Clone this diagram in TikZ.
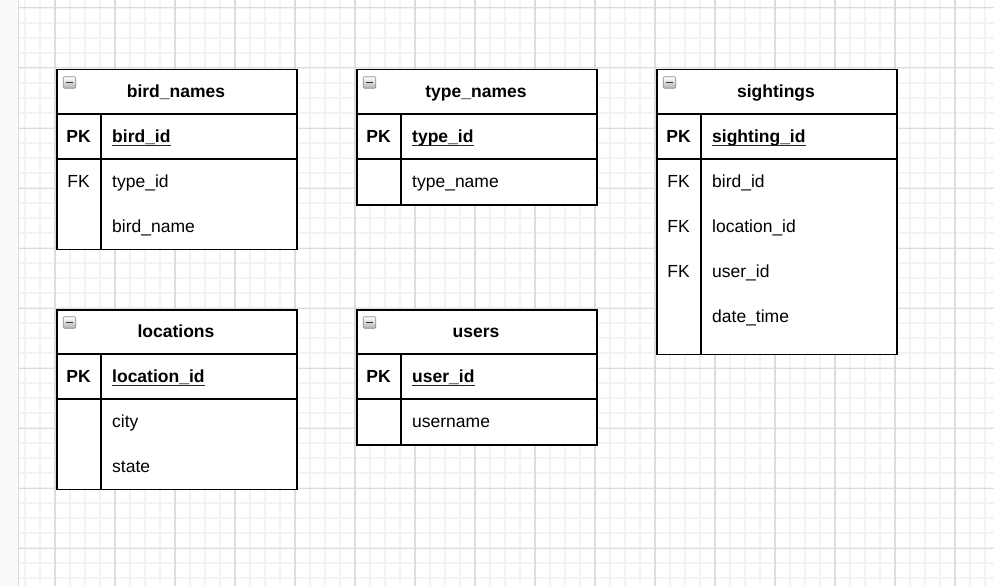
\documentclass[tikz,border=0pt]{standalone}
\usepackage{fontspec}
\setmainfont{Liberation Sans}
\usetikzlibrary{shadings}
\definecolor{minorgrid}{HTML}{F3F3F3}
\definecolor{majorgrid}{HTML}{DCDCDC}
\definecolor{strip}{HTML}{FAFAFA}
\tikzset{
  tbl/.style={draw=black, line width=1.5pt, fill=white, anchor=north west, minimum width=240pt, inner sep=0pt},
  ln/.style={draw=black, line width=1.5pt},
  txt/.style={font=\fontsize{17.5pt}{21pt}\selectfont, inner sep=0pt, text=black},
  hdr/.style={txt, font=\fontsize{17.5pt}{21pt}\selectfont\bfseries, anchor=base},
  keyb/.style={txt, font=\fontsize{17.5pt}{21pt}\selectfont\bfseries, anchor=base},
  keyn/.style={txt, anchor=base},
  fldb/.style={txt, font=\fontsize{17.5pt}{21pt}\selectfont\bfseries, anchor=base west},
  fld/.style={txt, anchor=base west},
  ul/.style={draw=black!85, line width=1pt},
  icon/.style={draw=black!45, line width=0.6pt, rounded corners=1pt, minimum width=12.5pt, minimum height=11.5pt, inner sep=0pt,
    top color=white, bottom color=black!30,
    path picture={\draw[line width=1.4pt, black!80] ([xshift=-3.6pt]path picture bounding box.center) -- ([xshift=3.6pt]path picture bounding box.center);}}
}
\begin{document}
\begin{tikzpicture}[x=1pt,y=-1pt]
\useasboundingbox (0,0) rectangle (994,586);
% background and grid
\fill[white] (0,0) rectangle (994,586);
\fill[strip] (0,0) rectangle (18,586);
\foreach \x in {25,40,...,985} \draw[minorgrid, line width=1.6pt] (\x,0) -- (\x,586);
\foreach \y in {8,23,...,578} \draw[minorgrid, line width=1.6pt] (18,\y) -- (994,\y);
\foreach \x in {55,115,...,955} \draw[majorgrid, line width=1.2pt] (\x,0) -- (\x,586);
\foreach \y in {8,68,...,548} \draw[majorgrid, line width=1pt] (18,\y) -- (994,\y);
\draw[majorgrid, line width=1pt] (18,0) -- (18,586);

% ---------- bird_names ----------
\node[tbl, minimum height=179.5pt] (bn) at (56,69) {};
\draw[ln] (56,114) -- (296,114) (56,159) -- (296,159) (101,114) -- (101,248.5);
\node[icon] (bn-i) at (69.5,82.5) {};
\node[hdr] (bn-h) at (176,97.8) {bird\_names};
\node[keyb] (bn-k1) at (78.5,142.8) {PK};
\node[fldb] (bn-f1) at (112,142.8) {bird\_id};
\draw[ul] ([yshift=-3pt]bn-f1.base west) -- ([yshift=-3pt]bn-f1.base east);
\node[keyn] (bn-k2) at (78.5,187.8) {FK};
\node[fld] (bn-f2) at (112,187.8) {type\_id};
\node[fld] (bn-f3) at (112,232.8) {bird\_name};

% ---------- type_names ----------
\node[tbl, minimum height=135pt] (tn) at (356,69) {};
\draw[ln] (356,114) -- (596,114) (356,159) -- (596,159) (401,114) -- (401,204);
\node[icon] (tn-i) at (369.5,82.5) {};
\node[hdr] (tn-h) at (476,97.8) {type\_names};
\node[keyb] (tn-k1) at (378.5,142.8) {PK};
\node[fldb] (tn-f1) at (412,142.8) {type\_id};
\draw[ul] ([yshift=-3pt]tn-f1.base west) -- ([yshift=-3pt]tn-f1.base east);
\node[fld] (tn-f2) at (412,187.8) {type\_name};

% ---------- sightings ----------
\node[tbl, minimum height=284.5pt] (si) at (656,69) {};
\draw[ln] (656,114) -- (896,114) (656,159) -- (896,159) (701,114) -- (701,353.5);
\node[icon] (si-i) at (669.5,82.5) {};
\node[hdr] (si-h) at (776,97.8) {sightings};
\node[keyb] (si-k1) at (678.5,142.8) {PK};
\node[fldb] (si-f1) at (712,142.8) {sighting\_id};
\draw[ul] ([yshift=-3pt]si-f1.base west) -- ([yshift=-3pt]si-f1.base east);
\node[keyn] (si-k2) at (678.5,187.8) {FK};
\node[fld] (si-f2) at (712,187.8) {bird\_id};
\node[keyn] (si-k3) at (678.5,232.8) {FK};
\node[fld] (si-f3) at (712,232.8) {location\_id};
\node[keyn] (si-k4) at (678.5,277.8) {FK};
\node[fld] (si-f4) at (712,277.8) {user\_id};
\node[fld] (si-f5) at (712,322.6) {date\_time};

% ---------- locations ----------
\node[tbl, minimum height=179.5pt] (lo) at (56,309) {};
\draw[ln] (56,354) -- (296,354) (56,399) -- (296,399) (101,354) -- (101,488.5);
\node[icon] (lo-i) at (69.5,322.5) {};
\node[hdr] (lo-h) at (176,337.8) {locations};
\node[keyb] (lo-k1) at (78.5,382.8) {PK};
\node[fldb] (lo-f1) at (112,382.8) {location\_id};
\draw[ul] ([yshift=-3pt]lo-f1.base west) -- ([yshift=-3pt]lo-f1.base east);
\node[fld] (lo-f2) at (112,427.8) {city};
\node[fld] (lo-f3) at (112,472.8) {state};

% ---------- users ----------
\node[tbl, minimum height=135pt] (us) at (356,309) {};
\draw[ln] (356,354) -- (596,354) (356,399) -- (596,399) (401,354) -- (401,444);
\node[icon] (us-i) at (369.5,322.5) {};
\node[hdr] (us-h) at (476,337.8) {users};
\node[keyb] (us-k1) at (378.5,382.8) {PK};
\node[fldb] (us-f1) at (412,382.8) {user\_id};
\draw[ul] ([yshift=-3pt]us-f1.base west) -- ([yshift=-3pt]us-f1.base east);
\node[fld] (us-f2) at (412,427.8) {username};
\end{tikzpicture}
\end{document}
